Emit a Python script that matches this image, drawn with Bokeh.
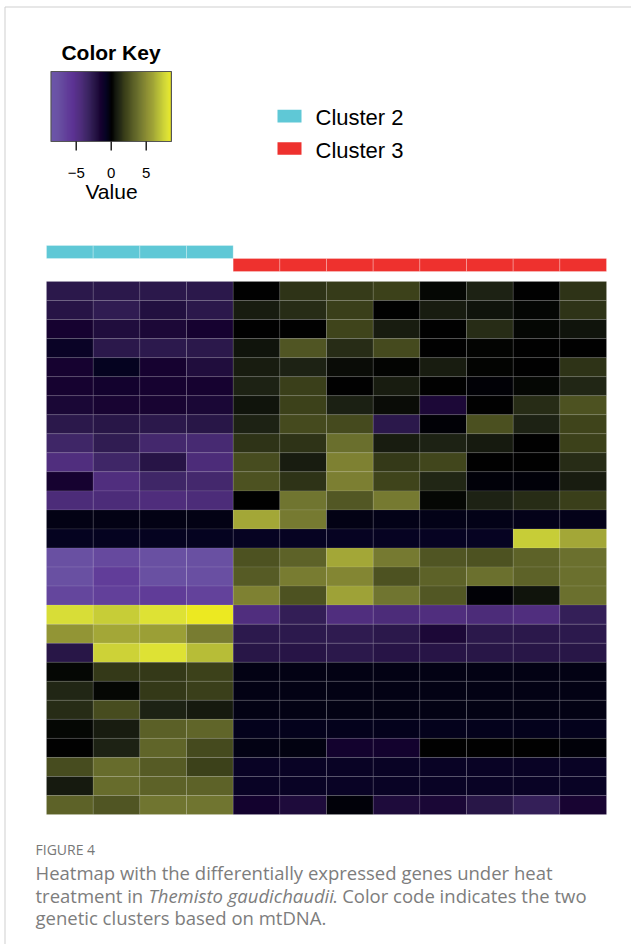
import numpy as np
from bokeh.plotting import figure
from bokeh.models import Range1d, LinearColorMapper, ColumnDataSource
from bokeh.core.properties import value
from bokeh.embed import file_html
from bokeh.resources import INLINE

# ---------------- data ----------------
samples = ["S1", "S2", "S3", "S4", "S5", "S6", "S7", "S8", "S9", "S10", "S11", "S12"]
clusters = ["Cluster 2"] * 4 + ["Cluster 3"] * 8
cluster_names = ["Cluster 2", "Cluster 3"]
cluster_colors = ["#5FC8D6", "#EE312E"]

values = [
    [-2.5, -2.5, -2.5, -2.5, 0.0, 1.5, 1.8, 2.0, 0.2, 1.0, 0.0, 1.5],
    [-2.3, -2.8, -2.1, -2.5, 0.8, 1.3, 1.9, 0.0, 0.8, 0.5, 0.2, 1.5],
    [-1.5, -2.0, -1.8, -1.5, 0.0, 0.0, 2.1, 0.8, 0.0, 1.3, 0.2, 0.5],
    [-1.0, -2.5, -2.6, -2.5, 0.5, 2.7, 1.3, 2.3, 0.0, 0.1, 0.05, 0.0],
    [-1.5, -0.7, -1.5, -2.0, 0.8, 1.0, 0.3, 0.1, 0.8, 0.1, 0.0, 1.5],
    [-1.5, -1.4, -1.5, -1.5, 1.0, 1.9, 0.0, 0.8, 0.05, -0.1, 0.2, 1.1],
    [-1.7, -1.6, -1.6, -1.7, 0.5, 2.0, 0.9, 0.3, -1.8, 0.0, 1.3, 2.6],
    [-2.5, -2.4, -2.5, -2.4, 1.0, 2.3, 2.3, -2.5, -0.1, 2.5, 1.0, 2.1],
    [-3.5, -2.8, -3.8, -4.0, 1.5, 1.5, 3.7, 0.8, 1.0, 0.7, 0.0, 2.0],
    [-4.5, -3.5, -2.3, -4.3, 2.4, 0.8, 4.5, 1.7, 2.2, 0.0, 0.0, 1.3],
    [-1.5, -4.5, -3.5, -3.8, 2.6, 1.5, 4.4, 2.1, 1.1, -0.2, -0.15, 0.8],
    [-4.3, -4.3, -4.4, -4.3, 0.0, 4.0, 2.8, 4.2, 0.2, 1.0, 1.3, 1.9],
    [-0.4, -0.4, -0.4, -0.4, 6.0, 4.2, -0.4, -0.45, -0.45, -0.45, -0.5, -0.5],
    [-0.7, -0.7, -0.7, -0.7, -0.8, -0.8, -0.8, -0.8, -0.8, -0.8, 7.2, 6.0],
    [-7.5, -7.0, -7.5, -7.5, 2.6, 3.2, 6.0, 4.2, 2.7, 2.6, 3.2, 3.8],
    [-7.5, -6.3, -7.5, -7.4, 2.9, 4.3, 4.7, 2.6, 3.2, 3.8, 3.2, 3.8],
    [-6.8, -6.5, -6.2, -6.6, 4.5, 2.6, 5.8, 4.0, 2.8, -0.1, 0.5, 3.8],
    [7.8, 7.2, 8.0, 8.5, -4.5, -2.9, -4.5, -4.3, -4.5, -4.3, -4.5, -3.0],
    [5.3, 6.0, 5.7, 4.3, -2.6, -2.6, -2.7, -2.5, -1.8, -2.5, -2.5, -2.6],
    [-2.4, 7.4, 8.0, 6.7, -2.4, -2.3, -2.5, -2.3, -2.3, -2.4, -2.4, -2.4],
    [0.2, 1.7, 1.7, 2.0, -0.35, -0.35, -0.35, -0.35, -0.35, -0.35, -0.35, -0.35],
    [1.1, 0.2, 1.7, 1.9, -0.35, -0.35, -0.35, -0.35, -0.35, -0.35, -0.35, -0.35],
    [1.3, 2.4, 1.0, 0.7, -0.35, -0.35, -0.35, -0.35, -0.35, -0.35, -0.35, -0.35],
    [0.2, 0.8, 3.1, 3.3, -0.6, -0.6, -0.6, -0.6, -0.6, -0.6, -0.6, -0.6],
    [0.0, 1.0, 3.3, 2.3, -0.4, -0.3, -1.4, -1.4, 0.0, 0.05, 0.0, -0.2],
    [2.4, 3.6, 2.9, 2.0, -0.9, -0.9, -0.9, -0.9, -0.9, -0.9, -0.9, -0.9],
    [0.7, 3.6, 3.2, 3.2, -0.9, -0.9, -0.9, -0.9, -0.9, -0.9, -0.9, -0.9],
    [3.2, 2.7, 4.0, 4.0, -1.4, -1.9, -0.2, -1.9, -1.7, -2.4, -3.0, -1.6],
]

key_low, key_high = -8.6, 8.6
key_ticks = [-5, 0, 5]
key_tick_labels = ["\u22125", "0", "5"]

caption_label = "FIGURE 4"
caption_lines = ["Heatmap with the differentially expressed genes under heat",
                 "treatment in ", "Themisto gaudichaudii", ". Color code indicates the two",
                 "genetic clusters based on mtDNA."]

# ---------------- style ----------------
stops = [
    (-8.6, (108, 86, 170)), (-7.5, (105, 80, 162)), (-6.5, (98, 64, 154)),
    (-5.5, (92, 50, 148)), (-4.5, (80, 46, 126)), (-3.5, (62, 38, 102)),
    (-2.5, (42, 24, 74)), (-1.5, (22, 2, 48)), (-0.8, (6, 3, 35)),
    (-0.4, (3, 2, 22)), (0.0, (0, 0, 0)), (0.5, (16, 20, 12)),
    (1.0, (30, 35, 20)), (2.0, (60, 65, 26)), (3.0, (88, 93, 38)),
    (4.0, (112, 117, 48)), (5.0, (140, 142, 52)), (6.0, (162, 166, 55)),
    (7.0, (192, 198, 55)), (8.0, (220, 225, 55)), (8.6, (238, 234, 30)),
]
sv = np.array([s[0] for s in stops])
sc = np.array([s[1] for s in stops], dtype=float)
palette = []
for v in np.linspace(key_low, key_high, 256):
    rgb = [int(round(np.interp(v, sv, sc[:, k]))) for k in range(3)]
    palette.append("#%02x%02x%02x" % tuple(rgb))
mapper = LinearColorMapper(palette=palette, low=key_low, high=key_high)

W, H = 631, 944
BASE_SHIFT = 0.35   # rendered alphabetic baseline sits ~0.35em low; compensate

def X(px):
    return px
def Y(py):  # distance from top -> bokeh y (from bottom)
    return H - py

n_rows, n_cols = len(values), len(samples)
hm_left, hm_right, hm_top, hm_bottom = 46, 606, 281, 814
cw = (hm_right - hm_left) / n_cols
rh = (hm_bottom - hm_top) / n_rows

x_range = Range1d(-hm_left / cw, n_cols + (W - hm_right) / cw)
y_range = Range1d(-(H - hm_bottom) / rh, n_rows + hm_top / rh)

key_px_per_unit = 7.0
key_center_px = 110.7
kx = Range1d(-key_center_px / key_px_per_unit, (W - key_center_px) / key_px_per_unit)

p = figure(width=W, height=H, x_range=x_range, y_range=y_range,
           x_axis_location=None, y_axis_location=None, toolbar_location=None,
           output_backend="svg", min_border=0, outline_line_color=None)
p.extra_x_ranges = {"px": Range1d(0, W), "kx": kx}
p.extra_y_ranges = {"py": Range1d(0, H)}
p.xgrid.visible = False
p.ygrid.visible = False

# heatmap cells
xs, ys, vs = [], [], []
for i, row in enumerate(values):
    for j, v in enumerate(row):
        xs.append(j + 0.5)
        ys.append(n_rows - i - 0.5)
        vs.append(v)
p.rect(x="x", y="y", width=1, height=1, source=ColumnDataSource(dict(x=xs, y=ys, v=vs)),
       fill_color={"field": "v", "transform": mapper},
       line_color="#ffffff", line_alpha=0.09, line_width=1)

# cluster colour bars
levels = {"Cluster 2": (n_rows + (hm_top - 258) / rh, n_rows + (hm_top - 245) / rh),
          "Cluster 3": (n_rows + (hm_top - 271) / rh, n_rows + (hm_top - 258) / rh)}
cb = dict(left=[], right=[], bottom=[], top=[], color=[])
for j, c in enumerate(clusters):
    cb["left"].append(j)
    cb["right"].append(j + 1)
    cb["bottom"].append(levels[c][0])
    cb["top"].append(levels[c][1])
    cb["color"].append(cluster_colors[cluster_names.index(c)])
p.quad(left="left", right="right", bottom="bottom", top="top", color="color",
       line_color="#ffffff", line_alpha=0.25, line_width=1, source=ColumnDataSource(cb))

def fsize(s):
    return float(s.replace("px", ""))

# colour key
grad = np.linspace(key_low, key_high, 256).reshape(1, -1)
p.image(image=[grad], x=key_low, y=Y(141), dw=key_high - key_low, dh=70,
        color_mapper=mapper, x_range_name="kx", y_range_name="py")
p.quad(left=[key_low], right=[key_high], bottom=[Y(141)], top=[Y(71)],
       fill_color=None, line_color="#555555", line_width=1.2,
       x_range_name="kx", y_range_name="py")
p.segment(x0=key_ticks, y0=[Y(141)] * 3, x1=key_ticks, y1=[Y(150)] * 3,
          line_color="black", line_width=1.3, x_range_name="kx", y_range_name="py")
p.text(x=key_ticks, y=[Y(178 - BASE_SHIFT * 15)] * 3, text=key_tick_labels, text_align="center",
       text_baseline="alphabetic", text_font=value("Liberation Sans"),
       text_font_size="15px", text_color="black", x_range_name="kx", y_range_name="py")

def txt(x, y, t, size, style="normal", font="Liberation Sans", color="black", align="left"):
    yy = y - BASE_SHIFT * fsize(size)
    p.text(x=[X(x)], y=[Y(yy)], text=[t], text_align=align, text_baseline="alphabetic",
           text_font=value(font), text_font_size=size, text_font_style=style,
           text_color=color, x_range_name="px", y_range_name="py")

txt(110.5, 59, "Color Key", "21px", style="bold", align="center")
txt(111, 198, "Value", "21px", align="center")

# legend
leg_top = [109.3, 141.7]
for k, name in enumerate(cluster_names):
    p.quad(left=[X(277)], right=[X(301)], bottom=[Y(leg_top[k] + 12.6)], top=[Y(leg_top[k])],
           fill_color=cluster_colors[k], line_color=None, x_range_name="px", y_range_name="py")
    txt(315, leg_top[k] + 15.8, name, "22px")

# panel border (top and left)
p.segment(x0=[4.5, 4.5], y0=[Y(6.5), Y(6.5)], x1=[W, 4.5], y1=[Y(6.5), 0],
          line_color="#cfcfcf", line_width=1, x_range_name="px", y_range_name="py")

# caption
cap_font = "Open Sans"
cap_col = "#7d7d7d"
cx = 35
txt(cx, 854, caption_label, "14px", font=cap_font, color="#777777")
txt(cx, 878, caption_lines[0], "18.5px", font=cap_font, color=cap_col)
txt(cx, 901, caption_lines[1], "18.5px", font=cap_font, color=cap_col)
txt(cx + 113, 901, caption_lines[2], "18.5px", style="italic", font=cap_font, color=cap_col)
txt(cx + 113 + 184, 901, caption_lines[3], "18.5px", font=cap_font, color=cap_col)
txt(cx, 923, caption_lines[4], "18.5px", font=cap_font, color=cap_col)

open("out.html", "w").write(file_html(p, INLINE))
